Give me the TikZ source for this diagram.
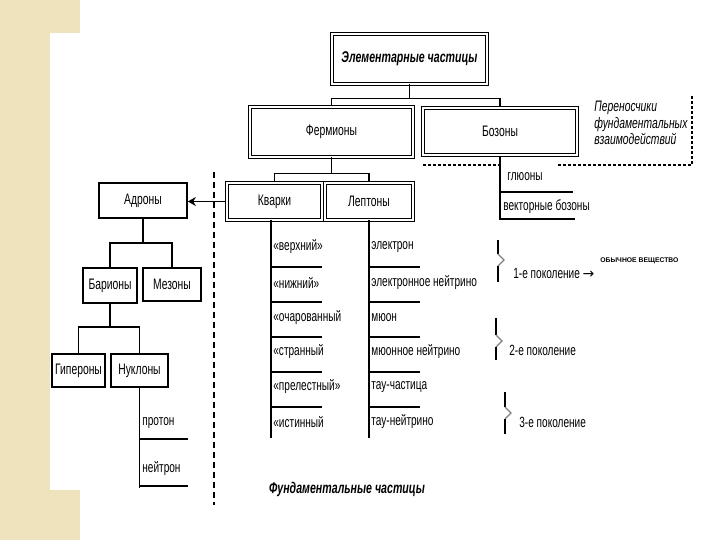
\documentclass[tikz,border=0pt]{standalone}
\usepackage{fontspec}
\setmainfont{Liberation Sans}[FakeStretch=0.68]
\newfontfamily\widefont{Liberation Sans}
\newfontfamily\symfont{DejaVu Sans}
\usetikzlibrary{arrows.meta}
\definecolor{beige}{RGB}{239,227,190}
\tikzset{
  x=0.5pt, y=-0.5pt,
  txt/.style={font=\fontsize{7.6}{8}\selectfont},
  dbox/.style={draw, double, double distance=0.9pt, line width=0.5pt, inner sep=0pt, txt},
  sbox/.style={draw, line width=0.85pt, inner sep=0pt, txt},
  item/.style={anchor=west, inner sep=0.5pt, font=\fontsize{7.4}{8}\selectfont},
  conn/.style={line width=0.8pt},
  rulel/.style={line width=0.85pt},
  dotline/.style={line width=0.9pt, dash pattern=on 1.5pt off 1pt},
  bracel/.style={line width=0.9pt},
}
\begin{document}
\begin{tikzpicture}
\useasboundingbox (0,0) rectangle (720,540);
\fill[beige] (0,0) rectangle (80,540);
\fill[white] (50,33) rectangle (80,490);

% top level
\node[dbox, minimum width=77.5pt, minimum height=25pt, font=\fontsize{7.8}{9}\selectfont\bfseries\itshape] (top) at (409.5,59) {Элементарные частицы};
\node[dbox, minimum width=81.5pt, minimum height=25pt] (ferm) at (331.5,132) {Фермионы};
\node[dbox, line width=0.65pt, minimum width=77pt, minimum height=23.5pt] (bos) at (500,131.5) {Бозоны};
\draw[conn] (top.south) -- ++(0,14) coordinate (j1);
\draw[conn] (ferm.north) |- (j1) -| (bos.north);

% carriers
\node[align=left, anchor=west, inner sep=0pt, font=\fontsize{7.6}{6.6}\selectfont\itshape] (carr) at (594,123) {Переносчики\\фундаментальных\\взаимодействий};
\draw[dotline] (423,165) -- (502,165);
\draw[dotline] (558,165) -- (692,165) -- (692,95);

% bosons list
\coordinate (bend) at (500,219);
\draw[conn] (bos.south) -- (bend) -- ++(75,0);
\node[item] (gl) at (506,177) {глюоны};
\draw[rulel] (500,192) -- (573,192);
\node[item] (vb) at (502,207) {векторные бозоны};

% second level
\node[dbox, minimum width=47.5pt, minimum height=18.5pt] (quarks) at (274.5,201.5) {Кварки};
\node[dbox, minimum width=44pt, minimum height=18.5pt] (leptons) at (369,201.5) {Лептоны};
\draw[conn] (ferm.south) -- ++(0,16) coordinate (jf);
\draw[conn] (quarks.north) |- (jf) -| (leptons.north);

\node[sbox, minimum width=44pt, minimum height=17.5pt] (adrons) at (143,200.5) {Адроны};
\draw[conn, -{Stealth[length=4pt, width=4.5pt]}] (quarks.west) -- (quarks.west -| adrons.east);

\draw[dash pattern=on 3pt off 2pt, line width=0.6pt] (214,172) -- (214,505);

% hadrons tree
\node[sbox, minimum width=27pt, minimum height=17.5pt] (baryons) at (110,285.5) {Барионы};
\node[sbox, minimum width=29pt, minimum height=16.5pt] (mesons) at (172,284.5) {Мезоны};
\draw[conn] (adrons.south) -- ++(0,24) coordinate (ja);
\draw[conn] (baryons.north) |- (ja) -| (mesons.north);

\node[sbox, minimum width=26.5pt, minimum height=16.5pt] (hyperons) at (78.5,370.5) {Гипероны};
\node[sbox, minimum width=28.5pt, minimum height=16.5pt] (nucleons) at (139.5,370.5) {Нуклоны};
\draw[conn] (baryons.south) -- ++(0,23) coordinate (jb);
\draw[conn] (hyperons.north) |- (jb) -| (nucleons.north);

\draw[conn] (nucleons.south) -- ++(0,100);
\node[item] (proton) at (141,423) {протон};
\draw[rulel] (139.5,439) -- (188,439);
\node[item] (neutron) at (141,469) {нейтрон};
\draw[rulel] (139.5,486) -- (188,486);

% quarks list
\draw[conn] ([xshift=-1.75pt]quarks.south) -- ++(0,218);
\node[item] (q1) at (272,247) {«верхний»};
\node[item] (q2) at (272,283) {«нижний»};
\node[item] (q3) at (272,318) {«очарованный};
\node[item] (q4) at (272,352) {«странный};
\node[item] (q5) at (272,387) {«прелестный»};
\node[item] (q6) at (272,422) {«истинный};
\foreach \yy in {267,302,337,372,407} \draw[rulel] (271,\yy) -- (322,\yy);

% leptons list
\draw[conn] (leptons.south) -- ++(0,218);
\node[item] (l1) at (370,247) {электрон};
\node[item] (l2) at (370,283) {электронное нейтрино};
\node[item] (l3) at (370,318) {мюон};
\node[item] (l4) at (370,352) {мюонное нейтрино};
\node[item] (l5) at (370,387) {тау-частица};
\node[item] (l6) at (370,422) {тау-нейтрино};
\foreach \yy in {267,302,337,372,407} \draw[rulel] (369,\yy) -- (420,\yy);

% generation braces
\draw[bracel] (498,240) -- (498,254);
\draw[line width=0.6pt, gray] (498,254) -- (504,260) -- (498,266);
\draw[bracel] (498,266) -- (498,282);
\draw[bracel, line width=0.6pt] (496,318) -- (496,335);
\draw[line width=0.6pt, gray] (496,335) -- (502,341) -- (496,347);
\draw[bracel, line width=0.6pt] (496,347) -- (496,360);
\draw[bracel, line width=0.6pt] (505,392) -- (505,407);
\draw[line width=0.6pt, gray] (505,407) -- (511,413) -- (505,419);
\draw[bracel, line width=0.6pt] (505,419) -- (505,434);

\node[item] (g1) at (512,273) {1-е поколение {\symfont\fontsize{7}{8}\selectfont →}};
\node[anchor=west, inner sep=0pt, font=\widefont\fontsize{3.4}{4}\selectfont\bfseries] (ord) at (600,261) {ОБЫЧНОЕ ВЕЩЕСТВО};
\node[item] (g2) at (508,350) {2-е поколение};
\node[item] (g3) at (518,422) {3-е поколение};

\node[font=\fontsize{7.8}{9}\selectfont\bfseries\itshape, inner sep=0pt] (fund) at (347,489) {Фундаментальные частицы};
\end{tikzpicture}
\end{document}
